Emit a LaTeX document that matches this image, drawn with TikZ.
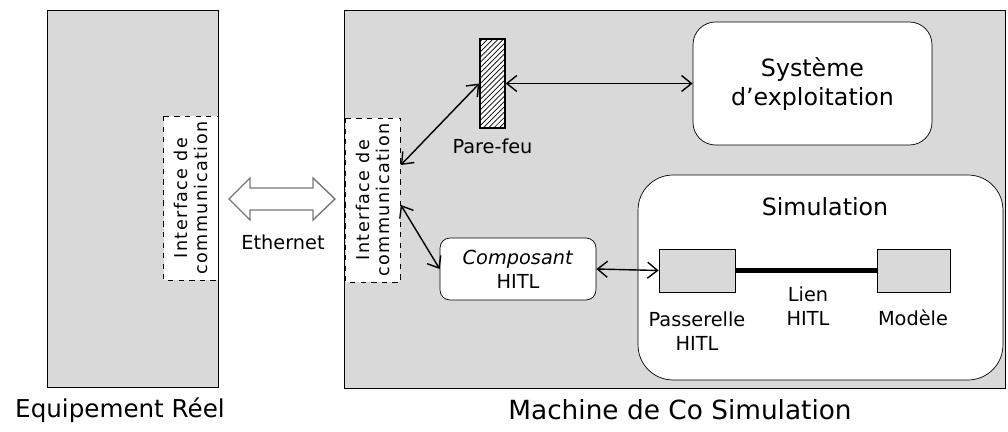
\documentclass[tikz,border=0pt]{standalone}
\usepackage{fontspec}
\setmainfont{DejaVu Sans}
\usepackage{xcolor}
\usetikzlibrary{positioning, fit, patterns, arrows.meta, calc}

\definecolor{panelgray}{RGB}{217,217,217}
\definecolor{arrowgray}{RGB}{120,120,120}

\tikzset{
  panel/.style={draw, fill=panelgray, inner sep=0pt},
  iface/.style={draw, dashed, fill=white, rotate=90, align=center,
    minimum width=3.28cm, minimum height=1.1cm, inner sep=1pt,
    font=\fontsize{10}{11.5}\selectfont\addfontfeature{LetterSpace=8}},
  rbox/.style={draw, fill=white, rounded corners=#1, align=center},
  smallbox/.style={draw, fill=panelgray, minimum height=0.86cm},
  lbl/.style={align=center, font=\fontsize{11}{13.5}\selectfont},
  link/.style={{Straight Barb[length=2mm,width=3.2mm]}-{Straight Barb[length=2mm,width=3.2mm]}, thick}
}

\begin{document}
\begin{tikzpicture}[x=0.02cm, y=-0.02cm]
\useasboundingbox (0,0) rectangle (1008,432);

% the two machines
\node[panel, fit={(47,10) (218,387)}] (equip) {};
\node[panel, fit={(344,10) (1005,388)}] (machine) {};
\node[font=\fontsize{14}{17}\selectfont] (equiplbl) at (120,410) {Equipement Réel};
\node[font=\fontsize{15}{18}\selectfont] (machlbl) at (680,410) {Machine de Co Simulation};

% communication interfaces
\node[iface] (ifL) at (191,198) {Interface de\\communication};
\node[iface] (ifR) at (373,200) {Interface de\\communication};

% ethernet link
\draw[draw=arrowgray, fill=white, line width=0.8pt]
  (229,199) -- (250,178) -- (250,188) -- (313,188) -- (313,178) -- (335,199)
  -- (313,220) -- (313,210) -- (250,210) -- (250,220) -- cycle;
\node[lbl] (eth) at (283,242) {Ethernet};

% firewall and OS
\node[draw, thick, preaction={fill=white}, pattern=north east lines,
  minimum width=0.5cm, minimum height=1.78cm] (fw) at (492.5,83.5) {};
\node[lbl, below=0.08cm of fw] (fwlbl) {Pare-feu};
\node[rbox=0.45cm, minimum width=4.78cm, minimum height=2.46cm,
  font=\fontsize{13.5}{16.5}\selectfont] (os) at (812.5,83.5) {Système\\d'exploitation};

% simulation part
\node[rbox=0.7cm, minimum width=7.3cm, minimum height=4.1cm] (sim) at (820.5,277.5) {};
\node[font=\fontsize{13.5}{16}\selectfont] (simlbl) at (825,207) {Simulation};
\node[rbox=0.2cm, minimum width=3.12cm, minimum height=1.24cm, lbl] (comp) at (518,269)
  {\textit{Composant}\\HITL};
\node[smallbox, minimum width=1.52cm] (pass) at (697,270.5) {};
\node[smallbox, minimum width=1.46cm] (model) at (913.5,270.5) {};
\node[lbl] (passlbl) at (697,331) {Passerelle\\HITL};
\node[lbl] (lienlbl) at (808,306) {Lien\\HITL};
\node[lbl] (modlbl) at (913,318) {Modèle};

% connectors
\draw[link] (fw.east) -- (os.west);
\draw[link] ($(ifR.south)+(0,-35)$) -- (fw.west);
\draw[link] ($(ifR.south)+(0,5)$) -- (comp.west);
\draw[link] (comp.east) -- (pass.west);
\draw[line width=2.5pt] (pass.east) -- (model.west);
\end{tikzpicture}
\end{document}
